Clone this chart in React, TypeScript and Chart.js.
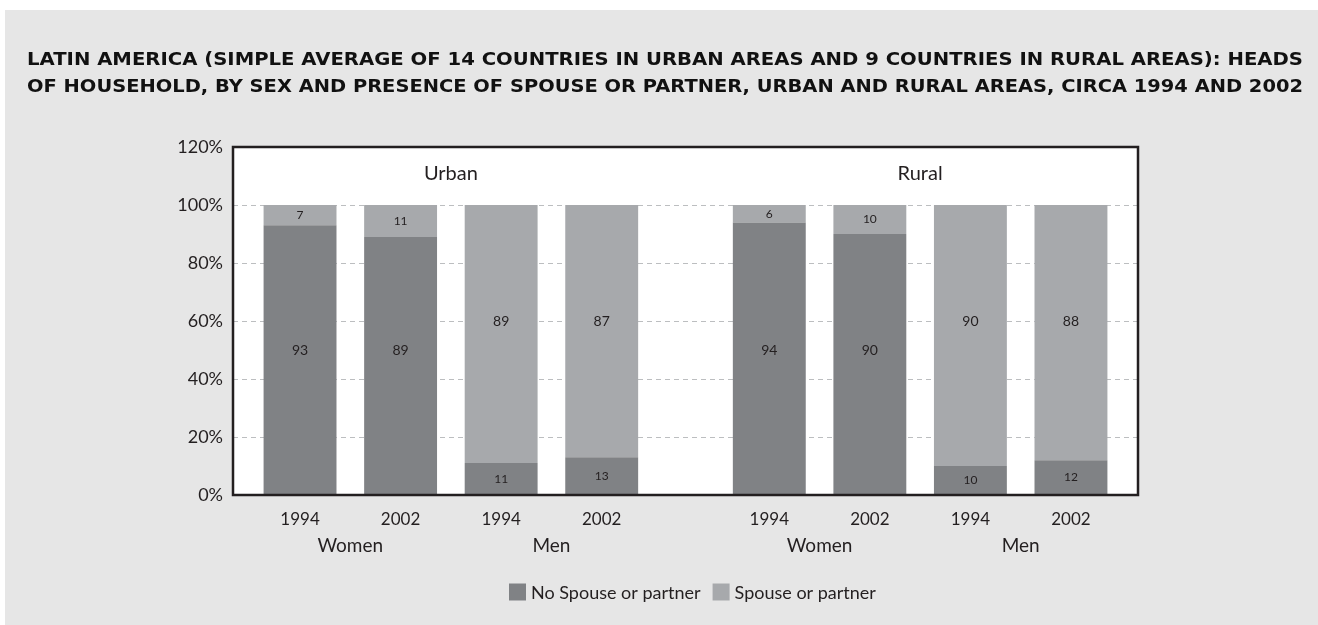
import React, { useEffect, useRef } from 'react';
import { Chart, registerables } from 'chart.js';

Chart.register(...registerables);

const titleLines = [
  'LATIN AMERICA (SIMPLE AVERAGE OF 14 COUNTRIES IN URBAN AREAS AND 9 COUNTRIES IN RURAL AREAS): HEADS',
  'OF HOUSEHOLD, BY SEX AND PRESENCE OF SPOUSE OR PARTNER, URBAN AND RURAL AREAS, CIRCA 1994 AND 2002',
];
const categories = ['1994', '2002', '1994', '2002', '1994', '2002', '1994', '2002'];
const areaOf = [0, 0, 0, 0, 1, 1, 1, 1];
const noSpouse = [93, 89, 11, 13, 94, 90, 10, 12];
const spouse = [7, 11, 89, 87, 6, 10, 90, 88];
const seriesNames = ['No Spouse or partner', 'Spouse or partner'];
const seriesColors = ['#808285', '#a7a9ac'];
const sexGroups = [
  { label: 'Women', from: 0, to: 1 },
  { label: 'Men', from: 2, to: 3 },
  { label: 'Women', from: 4, to: 5 },
  { label: 'Men', from: 6, to: 7 },
];
const areaGroups = [
  { label: 'Urban', from: 0, to: 3 },
  { label: 'Rural', from: 4, to: 7 },
];
const yMin = 0;
const yMax = 120;
const yStep = 20;
// y-value where the labels of large segments are written, per series
const bigLabelAt = [50, 60];
const areaLabelAt = 111;

// spacing (in bar slots) around and between the two area groups
const edgeGap = 2 / 3;
const groupGap = 2 / 3;
const positions = categories.map((_, i) => i + areaOf[i] * groupGap);

const TEXT = '#231f20';
const FONT = 'Lato, "Open Sans", sans-serif';
const TITLE_LEFT = 22;
const TITLE_RIGHT = 1298;

const decor = {
  id: 'decor',
  beforeDraw(chart: any) {
    const { ctx, chartArea } = chart;
    ctx.save();
    ctx.fillStyle = '#e6e6e6';
    ctx.fillRect(0, 0, chart.width, chart.height);
    ctx.fillStyle = '#ffffff';
    ctx.fillRect(chartArea.left, chartArea.top, chartArea.right - chartArea.left, chartArea.bottom - chartArea.top);
    ctx.restore();
  },
  afterDatasetsDraw(chart: any) {
    const { ctx, chartArea, scales } = chart;
    const x = scales.x;
    const y = scales.y;
    ctx.save();
    // data labels
    ctx.fillStyle = TEXT;
    ctx.textAlign = 'center';
    ctx.textBaseline = 'middle';
    chart.data.datasets.forEach((ds: any, di: number) => {
      const meta = chart.getDatasetMeta(di);
      meta.data.forEach((el: any, i: number) => {
        const v = ds.data[i].y;
        if (v == null) return;
        let yy;
        if (v >= 50) {
          yy = y.getPixelForValue(bigLabelAt[di]);
          ctx.font = `14px ${FONT}`;
        } else {
          yy = (el.y + el.base) / 2;
          ctx.font = `12px ${FONT}`;
        }
        ctx.fillText(String(v), el.x, yy);
      });
    });
    // frame
    ctx.strokeStyle = TEXT;
    ctx.lineWidth = 2.5;
    ctx.strokeRect(chartArea.left, chartArea.top, chartArea.right - chartArea.left, chartArea.bottom - chartArea.top);
    // area labels
    ctx.font = `20px ${FONT}`;
    ctx.fillStyle = TEXT;
    areaGroups.forEach((g) => {
      const cx = (x.getPixelForValue(positions[g.from]) + x.getPixelForValue(positions[g.to])) / 2;
      ctx.fillText(g.label, cx, y.getPixelForValue(areaLabelAt));
    });
    // sex labels
    ctx.font = `19px ${FONT}`;
    sexGroups.forEach((g) => {
      const cx = (x.getPixelForValue(positions[g.from]) + x.getPixelForValue(positions[g.to])) / 2;
      ctx.fillText(g.label, cx, chartArea.bottom + 51);
    });
    // legend
    ctx.font = `18px ${FONT}`;
    ctx.textAlign = 'left';
    let lx = 504;
    const ly = 582;
    seriesNames.forEach((name, i) => {
      ctx.fillStyle = seriesColors[i];
      ctx.fillRect(lx, ly - 8.5, 17, 17);
      ctx.fillStyle = TEXT;
      ctx.fillText(name, lx + 22, ly + 1);
      lx += 22 + ctx.measureText(name).width + 12;
    });
    // title (stretched horizontally to span the same width as the original typeface)
    ctx.font = `bold 17px "DejaVu Sans", ${FONT}`;
    ctx.fillStyle = '#111111';
    titleLines.forEach((line, i) => {
      const w = ctx.measureText(line).width;
      const sx = (TITLE_RIGHT - TITLE_LEFT) / w;
      ctx.save();
      ctx.translate(TITLE_LEFT, 51 + i * 27);
      ctx.scale(sx, 1);
      ctx.fillText(line, 0, 0);
      ctx.restore();
    });
    ctx.restore();
  },
};

export default function App() {
  const ref = useRef<HTMLCanvasElement>(null);
  useEffect(() => {
    const canvas = ref.current!;
    const chart = new Chart(canvas, {
      type: 'bar',
      data: {
        datasets: [
          {
            label: seriesNames[0],
            data: noSpouse.map((v, i) => ({ x: positions[i], y: v })),
            backgroundColor: seriesColors[0],
            barPercentage: 0.725,
            categoryPercentage: 1,
          },
          {
            label: seriesNames[1],
            data: spouse.map((v, i) => ({ x: positions[i], y: v })),
            backgroundColor: seriesColors[1],
            barPercentage: 0.725,
            categoryPercentage: 1,
          },
        ],
      },
      options: {
        responsive: false,
        maintainAspectRatio: false,
        animation: false,
        layout: { padding: { top: 137, left: 100, right: 180, bottom: 70 } },
        plugins: {
          legend: { display: false },
          tooltip: { enabled: false },
          title: { display: false },
        },
        scales: {
          x: {
            type: 'linear',
            stacked: true,
            offset: false,
            min: positions[0] - edgeGap,
            max: positions[positions.length - 1] + edgeGap,
            grid: { display: false, drawTicks: false },
            border: { display: false },
            afterBuildTicks: (s: any) => {
              s.ticks = positions.map((p) => ({ value: p }));
            },
            ticks: {
              color: TEXT,
              font: { family: FONT, size: 17 },
              padding: 14,
              maxRotation: 0,
              autoSkip: false,
              callback: (_v: any, idx: number) => categories[idx],
            },
            afterFit: (s: any) => { s.height = 60; },
          },
          y: {
            stacked: true,
            min: yMin,
            max: yMax,
            grid: {
              drawTicks: false,
              color: (c: any) => (c.tick && (c.tick.value === yMin || c.tick.value === yMax) ? 'rgba(0,0,0,0)' : '#bcbec0'),
            },
            border: { display: false, dash: [5, 4] },
            ticks: {
              stepSize: yStep,
              color: TEXT,
              font: { family: FONT, size: 18 },
              padding: 10,
              callback: (v: any) => `${v}%`,
            },
            afterFit: (s: any) => { s.width = 128; },
          },
        },
      },
      plugins: [decor],
    });
    return () => chart.destroy();
  }, []);
  return (
    <div style={{ position: 'absolute', left: 5, top: 10, width: 1313, height: 615 }}>
      <canvas ref={ref} width={1313} height={615} style={{ display: 'block', width: 1313, height: 615 }} />
    </div>
  );
}
